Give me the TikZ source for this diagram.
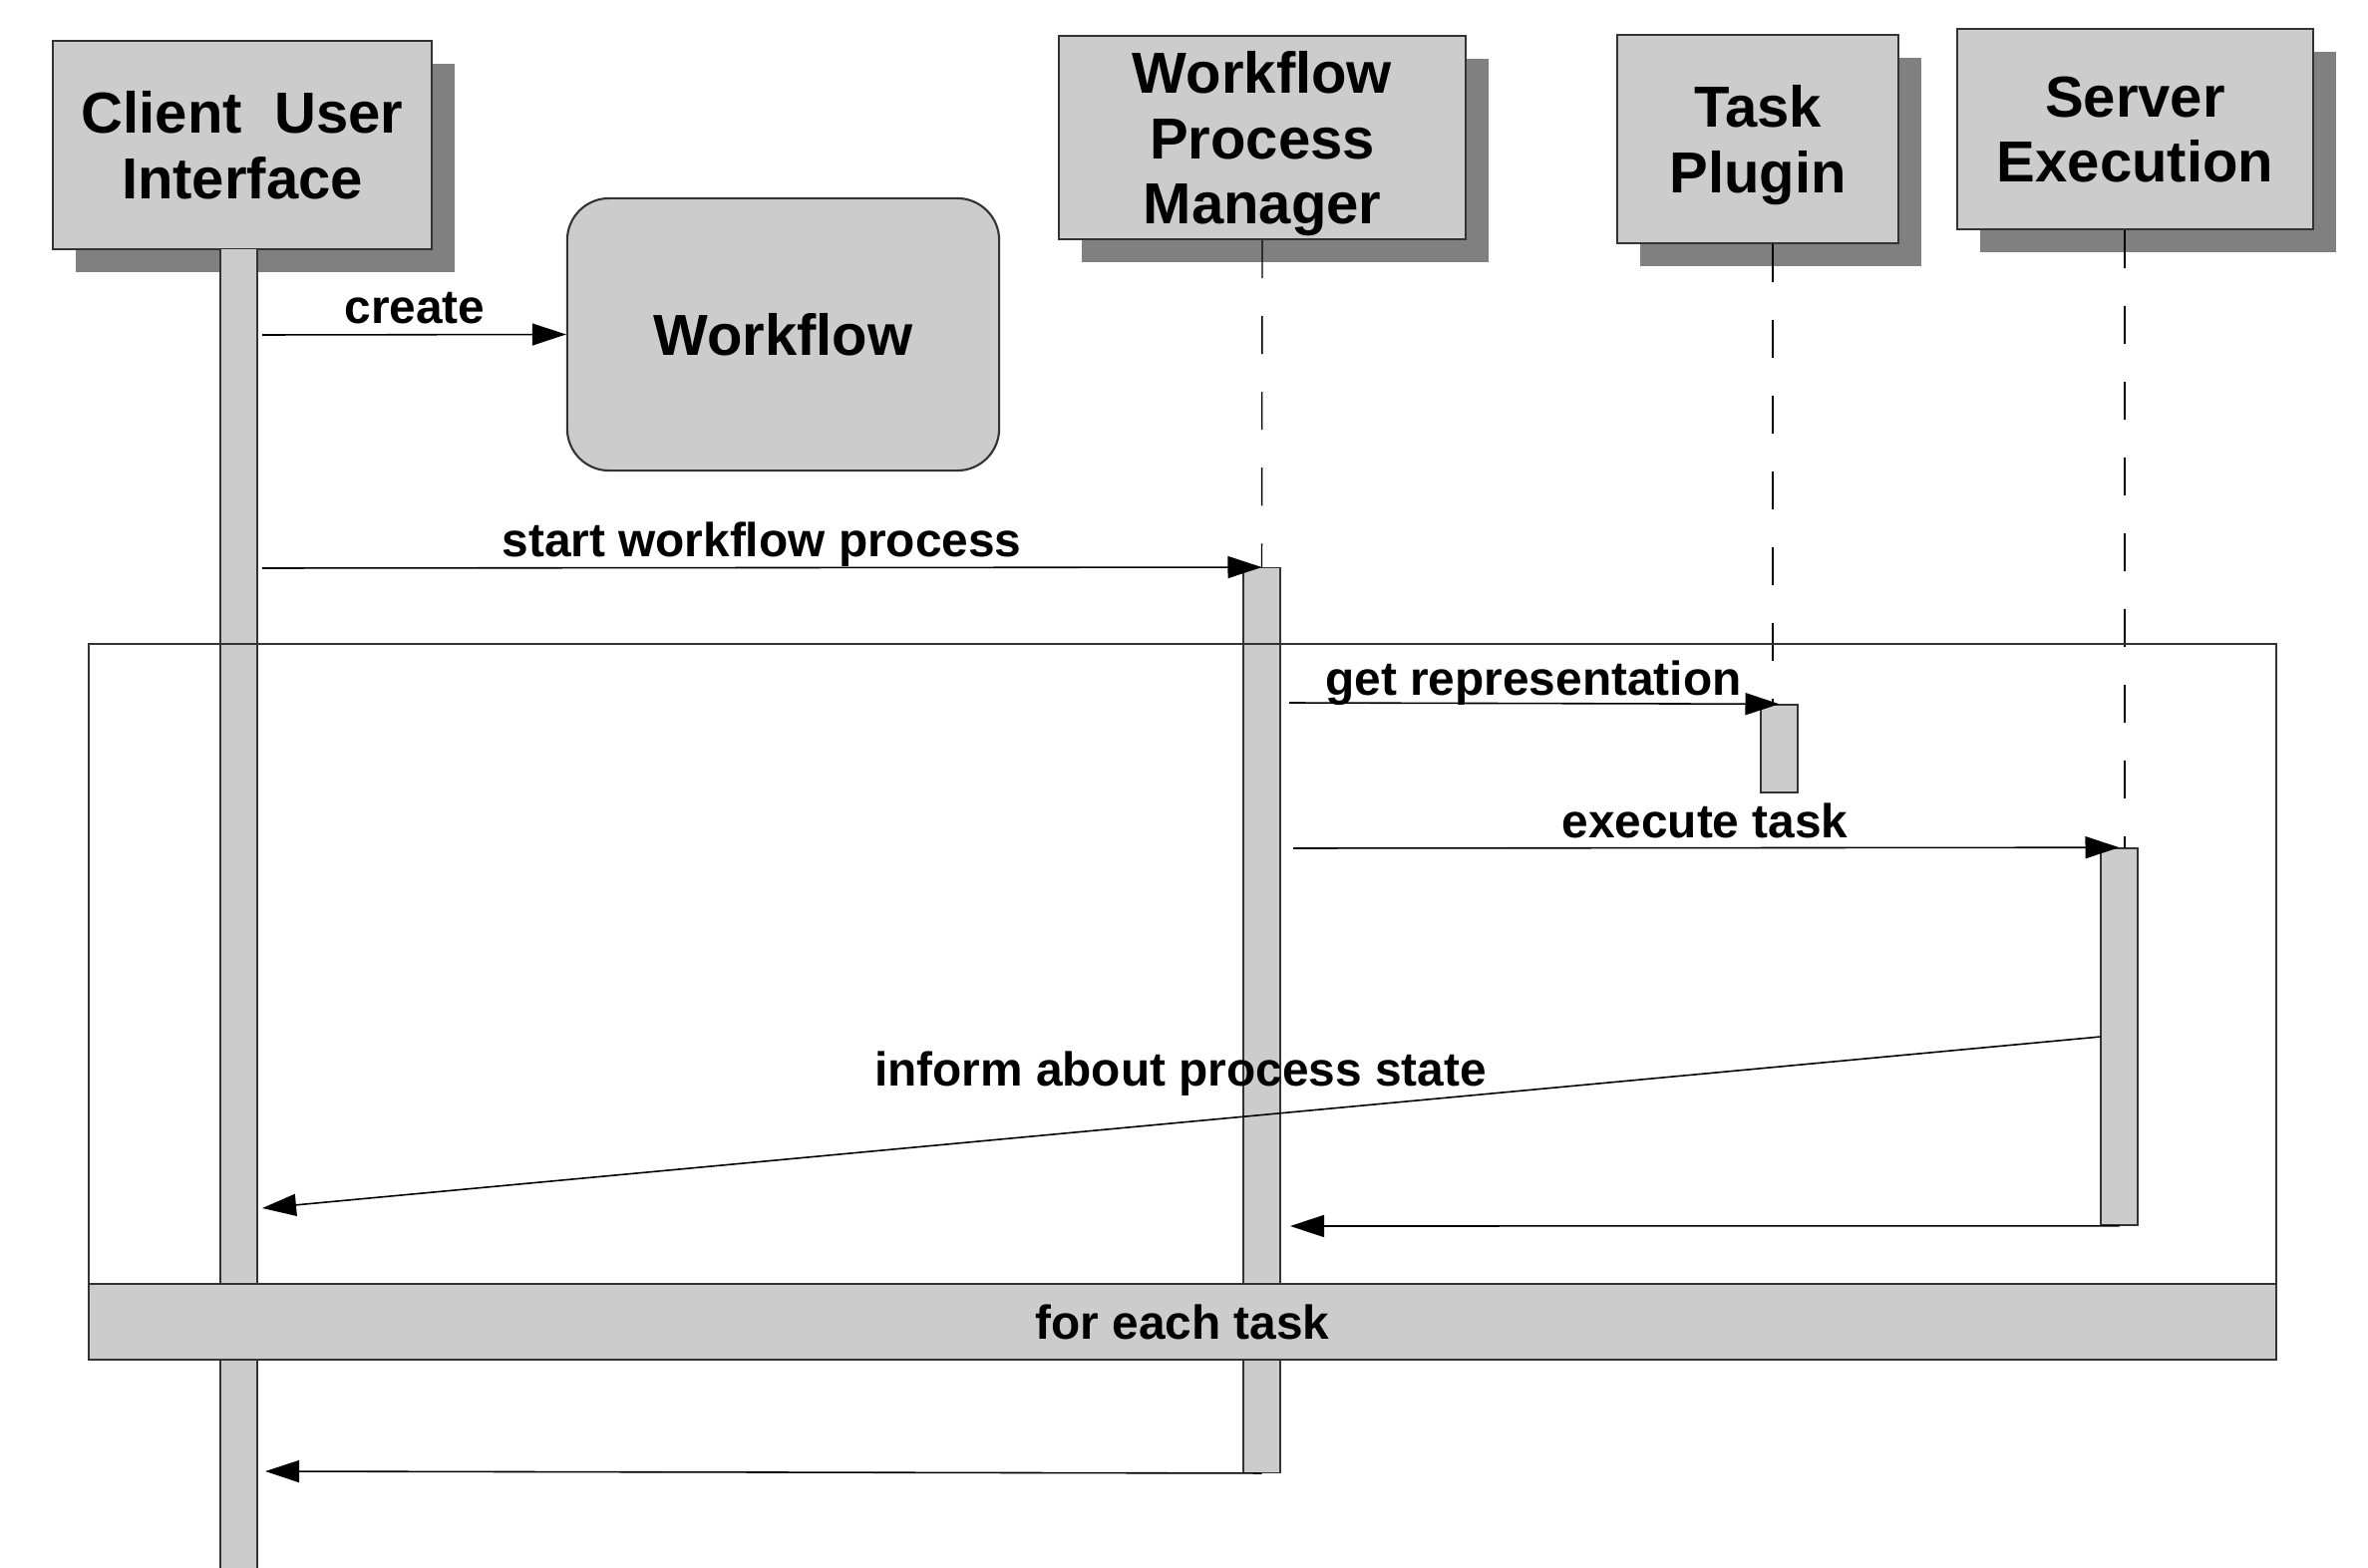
\documentclass[tikz,border=0pt]{standalone}
\usepackage{fontspec}
\setmainfont{Liberation Sans}
\usetikzlibrary{arrows.meta,shadows}
\definecolor{boxgray}{HTML}{CCCCCC}
\definecolor{shadowgray}{HTML}{808080}
\definecolor{edgegray}{HTML}{333333}
\begin{document}
\begin{tikzpicture}[x=0.01cm,y=-0.01cm,
  actor/.style={draw=edgegray, line width=0.6pt, fill=boxgray, inner sep=0pt, align=center,
    text depth=0pt,
    font=\fontsize{16.5}{18.5}\selectfont\bfseries,
    drop shadow={shadow xshift=0.23cm, shadow yshift=-0.23cm, fill=shadowgray, opacity=1}},
  objbox/.style={draw=edgegray, line width=0.6pt, fill=boxgray, inner sep=0pt, align=center,
    rounded corners=0.42cm, font=\fontsize{16.5}{18.5}\selectfont\bfseries},
  actbar/.style={draw=edgegray, line width=0.4pt, fill=boxgray, inner sep=0pt, minimum width=0.37cm},
  msg/.style={draw=black, line width=0.45pt, -{Triangle[length=0.34cm,width=0.22cm]}},
  lbl/.style={font=\fontsize{13.6}{16}\selectfont\bfseries, anchor=base, inner sep=0pt},
  life/.style={draw=black, line width=0.4pt, dash pattern=on 0.38cm off 0.38cm},
  framebox/.style={draw=edgegray, line width=0.5pt, inner sep=0pt},
  bandbox/.style={draw=edgegray, line width=0.6pt, fill=boxgray, inner sep=0pt,
    font=\fontsize{13.6}{16}\selectfont\bfseries}
]
\useasboundingbox (0,0) rectangle (2375,1573);

% actors
\node[actor, minimum width=3.805cm, minimum height=2.09cm] (client) at (243,145.5) {Client\ \ User\\Interface};
\node[actor, minimum width=4.075cm, minimum height=2.04cm] (wpm) at (1266,138) {Workflow\\Process\\Manager};
\node[actor, minimum width=2.82cm, minimum height=2.09cm] (task) at (1763,139.5) {Task\\Plugin};
\node[actor, minimum width=3.57cm, minimum height=2.01cm] (server) at (2141.5,129.5) {Server\\Execution};

\node[objbox, minimum width=4.33cm, minimum height=2.73cm] (workflow) at (785.5,335.5) {Workflow};

% activation bars
\node[actbar, minimum height=13.4cm] (clientbar) at (239.5,920) {};
\node[actbar, minimum height=9.07cm] (wpmbar) at (1265.5,1023.5) {};
\node[actbar, minimum height=0.88cm] (taskbar) at (1784.5,751) {};
\node[actbar, minimum height=3.78cm] (serverbar) at (2125.5,1040) {};

% lifelines
\coordinate (tasktop) at (1778,707);
\coordinate (servertop) at (2131,851);
\draw[life] (wpm.south) -- (wpmbar.north);
\draw[life] (tasktop |- task.south) -- (tasktop);
\draw[life] (servertop |- server.south) -- (servertop);

% loop frame
\node[framebox, minimum width=21.92cm, minimum height=7.18cm] (loop) at (1186,1005) {};
\node[bandbox, minimum width=21.92cm, minimum height=0.76cm] (band) at (1186,1326) {for each task};

% messages
\coordinate (c1) at (263,336);
\coordinate (c2) at (263,570);
\coordinate (c3) at (1293,705);
\coordinate (c4) at (1297,851);
\coordinate (c5) at (2107,1040);
\coordinate (c6) at (263,1212);
\coordinate (c7) at (1294,1230);
\coordinate (c8) at (266,1476);
\draw[msg] (c1) -- (workflow.west);
\draw[msg] (c2) -- (wpmbar.north);
\draw[msg] (c3) -- (taskbar.north);
\draw[msg] (c4) -- (serverbar.north);
\draw[msg] (c5) -- (c6);
\draw[msg] (serverbar.south) -- (c7);
\draw[msg] (wpmbar.south) -- (c8);

% labels
\node[lbl] (l1) at (416,325) {create};
\node[lbl] (l2) at (764,559) {start workflow process};
\node[lbl] (l3) at (1538,697) {get representation};
\node[lbl] (l4) at (1710,840) {execute task};
\node[lbl] (l5) at (1184,1089) {inform about process state};
\end{tikzpicture}
\end{document}
